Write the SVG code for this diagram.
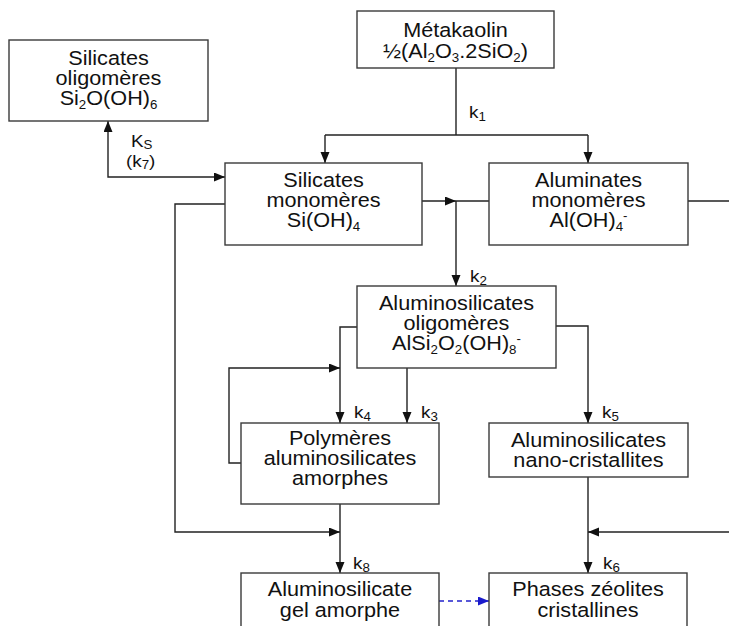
<svg xmlns="http://www.w3.org/2000/svg" width="729" height="626" viewBox="0 0 729 626">
<style>
  .box { fill: #ffffff; stroke: #3a3a3a; stroke-width: 1.4; }
  .t { font-family: "Liberation Sans", Arial, sans-serif; font-size: 19.5px; fill: #111; text-anchor: middle; }
  .k { font-family: "Liberation Sans", Arial, sans-serif; font-size: 17px; fill: #111; }
  .sub { font-size: 12px; }
  .ln { fill: none; stroke: #222; stroke-width: 1.4; }
  .ar { fill: none; stroke: #222; stroke-width: 1.4; marker-end: url(#ah); }
  .dash { fill: none; stroke: #2222cc; stroke-width: 1.4; stroke-dasharray: 5 4; marker-end: url(#ahb); }
</style>
<defs>
  <marker id="ah" markerUnits="userSpaceOnUse" markerWidth="12" markerHeight="10" refX="11" refY="4.5" orient="auto-start-reverse">
    <path d="M0,0 L11,4.5 L0,9 z" fill="#111"/>
  </marker>
  <marker id="ahb" markerUnits="userSpaceOnUse" markerWidth="12" markerHeight="10" refX="11" refY="4.5" orient="auto">
    <path d="M0,0 L11,4.5 L0,9 z" fill="#1a1acc"/>
  </marker>
</defs>
<rect x="0" y="0" width="729" height="626" fill="#ffffff"/>

<g id="connectors">
  <path class="ln" d="M456,68 V135"/>
  <path class="ln" d="M325,135 H588"/>
  <path class="ar" d="M325,135 V163"/>
  <path class="ar" d="M588,135 V163"/>
  <path class="ar" d="M225,177 H108 V121" style="marker-start:url(#ah)"/>
  <path class="ar" d="M225,204 H175 V532 H340"/>
  <path class="ar" d="M422,201 H456"/>
  <path class="ln" d="M456,201 H489"/>
  <path class="ar" d="M456,201 V286"/>
  <path class="ln" d="M688,201 H729"/>
  <path class="ar" d="M357,327 H340 V423"/>
  <path class="ar" d="M241,463 H229 V368 H340"/>
  <path class="ar" d="M407,368 V423"/>
  <path class="ar" d="M556,326 H588 V423"/>
  <path class="ar" d="M340,504 V573"/>
  <path class="ar" d="M588,477 V573"/>
  <path class="ar" d="M729,532 H588"/>
  <path class="dash" d="M439,601 H489"/>
</g>

<g id="labels">
  <text class="k" transform="translate(469,118) scale(1.11,1)">k<tspan class="sub" dy="3">1</tspan></text>
  <text class="k" transform="translate(470,282) scale(1.11,1)">k<tspan class="sub" dy="3">2</tspan></text>
  <text class="k" transform="translate(421,418) scale(1.11,1)">k<tspan class="sub" dy="3">3</tspan></text>
  <text class="k" transform="translate(354,418) scale(1.11,1)">k<tspan class="sub" dy="3">4</tspan></text>
  <text class="k" transform="translate(602,418) scale(1.11,1)">k<tspan class="sub" dy="3">5</tspan></text>
  <text class="k" transform="translate(603,569) scale(1.11,1)">k<tspan class="sub" dy="3">6</tspan></text>
  <text class="k" transform="translate(353,569) scale(1.11,1)">k<tspan class="sub" dy="3">8</tspan></text>
  <text class="k" transform="translate(131,147) scale(1.11,1)">K<tspan class="sub" dy="2">S</tspan></text>
  <text class="k" transform="translate(126,167) scale(1.11,1)">(k<tspan class="sub" dy="2">7</tspan><tspan dy="-2">)</tspan></text>
</g>

<g id="metakaolin">
  <rect class="box" x="357" y="11" width="197" height="57"/>
  <text class="t" transform="translate(455.5,37) scale(1.11,1)">Métakaolin</text>
  <text class="t" transform="translate(455.5,58) scale(1.11,1)">½(Al<tspan class="sub" dy="4">2</tspan><tspan dy="-4">O</tspan><tspan class="sub" dy="4">3</tspan><tspan dy="-4">.2SiO</tspan><tspan class="sub" dy="4">2</tspan><tspan dy="-4">)</tspan></text>
</g>

<g id="silicates-oligomeres">
  <rect class="box" x="9" y="40" width="199" height="81"/>
  <text class="t" transform="translate(108.5,65) scale(1.11,1)">Silicates</text>
  <text class="t" transform="translate(108.5,85) scale(1.11,1)">oligomères</text>
  <text class="t" transform="translate(108.5,105) scale(1.11,1)">Si<tspan class="sub" dy="4">2</tspan><tspan dy="-4">O(OH)</tspan><tspan class="sub" dy="4">6</tspan></text>
</g>

<g id="silicates-monomeres">
  <rect class="box" x="225" y="163" width="197" height="82"/>
  <text class="t" transform="translate(323.5,187) scale(1.11,1)">Silicates</text>
  <text class="t" transform="translate(323.5,207) scale(1.11,1)">monomères</text>
  <text class="t" transform="translate(323.5,227) scale(1.11,1)">Si(OH)<tspan class="sub" dy="4">4</tspan></text>
</g>

<g id="aluminates-monomeres">
  <rect class="box" x="489" y="163" width="199" height="82"/>
  <text class="t" transform="translate(588.5,187) scale(1.11,1)">Aluminates</text>
  <text class="t" transform="translate(588.5,207) scale(1.11,1)">monomères</text>
  <text class="t" transform="translate(588.5,227) scale(1.11,1)">Al(OH)<tspan class="sub" dy="4">4</tspan><tspan class="sub" dy="-11">-</tspan></text>
</g>

<g id="aluminosilicates-oligomeres">
  <rect class="box" x="357" y="286" width="199" height="82"/>
  <text class="t" transform="translate(456.5,310) scale(1.11,1)">Aluminosilicates</text>
  <text class="t" transform="translate(456.5,330) scale(1.11,1)">oligomères</text>
  <text class="t" transform="translate(456.5,350) scale(1.11,1)">AlSi<tspan class="sub" dy="4">2</tspan><tspan dy="-4">O</tspan><tspan class="sub" dy="4">2</tspan><tspan dy="-4">(OH)</tspan><tspan class="sub" dy="4">8</tspan><tspan class="sub" dy="-11">-</tspan></text>
</g>

<g id="polymeres">
  <rect class="box" x="241" y="423" width="198" height="81"/>
  <text class="t" transform="translate(340,445) scale(1.11,1)">Polymères</text>
  <text class="t" transform="translate(340,465) scale(1.11,1)">aluminosilicates</text>
  <text class="t" transform="translate(340,485) scale(1.11,1)">amorphes</text>
</g>

<g id="nano-cristallites">
  <rect class="box" x="489" y="423" width="199" height="54"/>
  <text class="t" transform="translate(588.5,447) scale(1.11,1)">Aluminosilicates</text>
  <text class="t" transform="translate(588.5,467) scale(1.11,1)">nano-cristallites</text>
</g>

<g id="gel-amorphe">
  <rect class="box" x="241" y="573" width="198" height="80"/>
  <text class="t" transform="translate(340,596) scale(1.11,1)">Aluminosilicate</text>
  <text class="t" transform="translate(340,617) scale(1.11,1)">gel amorphe</text>
</g>

<g id="phases-zeolites">
  <rect class="box" x="489" y="573" width="198" height="80"/>
  <text class="t" transform="translate(588,596) scale(1.11,1)">Phases zéolites</text>
  <text class="t" transform="translate(588,617) scale(1.11,1)">cristallines</text>
</g>
</svg>
